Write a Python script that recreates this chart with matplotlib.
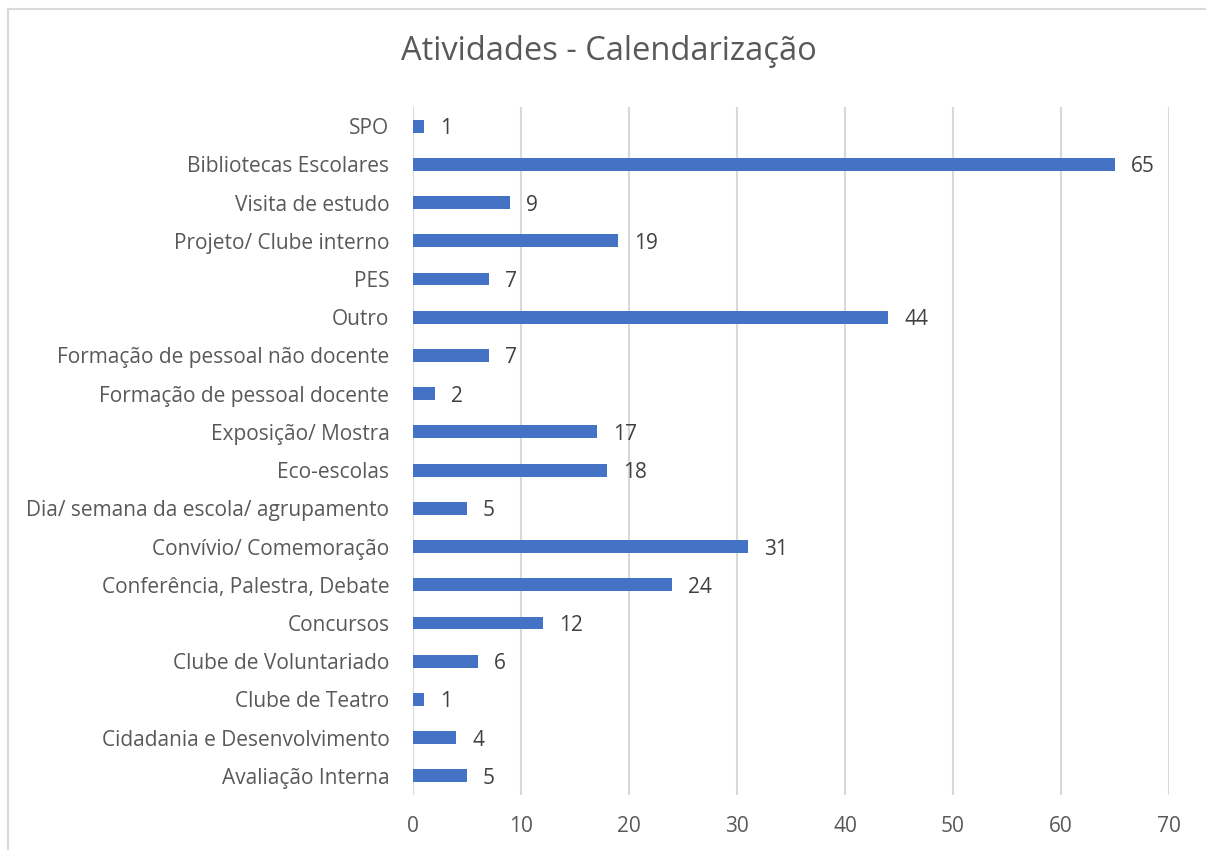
import matplotlib
matplotlib.use("Agg")
import matplotlib.pyplot as plt
from matplotlib.lines import Line2D

plt.rcParams['font.family'] = ['Open Sans', 'DejaVu Sans']

# categorias, de baixo para cima
categorias = [
    "Avaliação Interna",
    "Cidadania e Desenvolvimento",
    "Clube de Teatro",
    "Clube de Voluntariado",
    "Concursos",
    "Conferência, Palestra, Debate",
    "Convívio/ Comemoração",
    "Dia/ semana da escola/ agrupamento",
    "Eco-escolas",
    "Exposição/ Mostra",
    "Formação de pessoal docente",
    "Formação de pessoal não docente",
    "Outro",
    "PES",
    "Projeto/ Clube interno",
    "Visita de estudo",
    "Bibliotecas Escolares",
    "SPO",
]
valores = [5, 4, 1, 6, 12, 24, 31, 5, 18, 17, 2, 7, 44, 7, 19, 9, 65, 1]
ticks_x = [0, 10, 20, 30, 40, 50, 60, 70]

W, H = 1206, 850
fig = plt.figure(figsize=(W / 100, H / 100), dpi=100)

# moldura do gráfico (só se vê a esquerda e o topo)
fig.lines.append(Line2D([7.5 / W, 7.5 / W], [0, 1 - 8.5 / H],
                        transform=fig.transFigure, color="#D9D9D9", lw=1.5))
fig.lines.append(Line2D([7.5 / W, 1], [1 - 8.5 / H, 1 - 8.5 / H],
                        transform=fig.transFigure, color="#D9D9D9", lw=1.5))

ax = fig.add_axes([413 / W, 1 - 795 / H, (1169 - 413) / W, (795 - 107) / H])

y = list(range(len(categorias)))
ax.barh(y, valores, height=0.34, color="#4472C4", zorder=3)

# rótulos de valor à direita das barras
for yi, v in zip(y, valores):
    ax.annotate(str(v), (v, yi), xytext=(11.5, -1.8), textcoords="offset points",
                va="center", ha="left", fontsize=15, color="#404040")

ax.set_xlim(0, 70)
ax.set_ylim(-0.5, len(categorias) - 0.5)
ax.set_xticks(ticks_x)
ax.set_yticks(y)
ax.set_yticklabels(categorias)
ax.tick_params(axis="both", length=0, labelsize=15, labelcolor="#595959")
ax.tick_params(axis="x", pad=15)
ax.tick_params(axis="y", pad=17)
ax.grid(axis="x", color="#D9D9D9", lw=1.5, zorder=0)
for s in ax.spines.values():
    s.set_visible(False)

fig.text(609 / W, 1 - 52 / H, "Atividades - Calendarização",
         ha="center", va="center", fontsize=23.5, color="#595959")

fig.savefig("out.png", dpi=100)
